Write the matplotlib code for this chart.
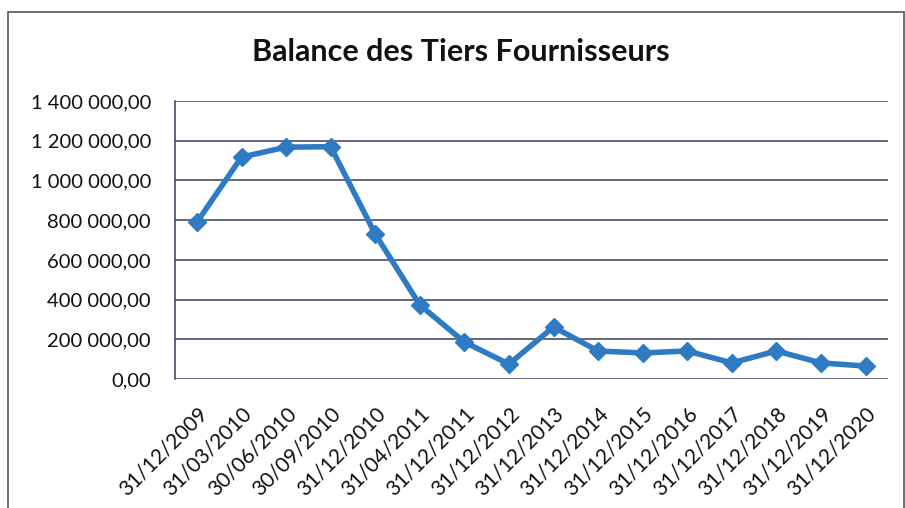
import matplotlib
matplotlib.use('Agg')
import matplotlib.pyplot as plt
from matplotlib.patches import Rectangle
from matplotlib.ticker import MultipleLocator, FuncFormatter

# data
dates = ['31/12/2009', '31/03/2010', '30/06/2010', '30/09/2010', '31/12/2010',
         '31/04/2011', '31/12/2011', '31/12/2012', '31/12/2013', '31/12/2014',
         '31/12/2015', '31/12/2016', '31/12/2017', '31/12/2018', '31/12/2019',
         '31/12/2020']
balance = [790000, 1118000, 1168000, 1170000, 730000, 373000, 186000, 75000,
           262000, 141000, 131000, 141000, 81000, 141000, 81000, 65000]

plt.rcParams['font.family'] = ['Lato', 'DejaVu Sans']

def fr_fmt(v, pos):
    s = f"{v:,.2f}"
    return s.replace(',', ' ').replace('.', ',')

fig = plt.figure(figsize=(9.05, 5.08), dpi=100)
ax = fig.add_axes([0.193, 0.254, 0.788, 0.547])

x = range(len(dates))
ax.plot(x, balance, color='#2e7bc4', lw=4, marker='D', markersize=9.5,
        markeredgecolor='#2e7bc4', zorder=3)

ax.set_xlim(-0.5, len(dates) - 0.5)
ax.set_ylim(0, 1400000)
ax.yaxis.set_major_locator(MultipleLocator(200000))
ax.yaxis.set_major_formatter(FuncFormatter(fr_fmt))
ax.set_xticks(list(x))
ax.set_xticklabels(dates, rotation=45, ha='right', rotation_mode='anchor')
ax.tick_params(axis='both', length=0, colors='#111111')
ax.tick_params(axis='x', pad=18, labelsize=15)
ax.tick_params(axis='y', pad=17, labelsize=14.5)

ax.yaxis.grid(True, color='#3a3f5a', lw=1.1)
ax.set_axisbelow(True)
for s in ['top', 'right', 'bottom']:
    ax.spines[s].set_visible(False)
ax.spines['left'].set_color('#3a3f5a')
ax.spines['left'].set_linewidth(1.1)

fig.text(0.509, 0.898, 'Balance des Tiers Fournisseurs', ha='center', va='center',
         fontsize=22, fontweight='bold', color='#111111')

# outer chart frame
fig.patches.append(Rectangle((0.009, -0.02), 0.99, 0.997, transform=fig.transFigure,
                             fill=False, edgecolor='#555555', lw=1.2))

fig.savefig('out.png', dpi=100)
